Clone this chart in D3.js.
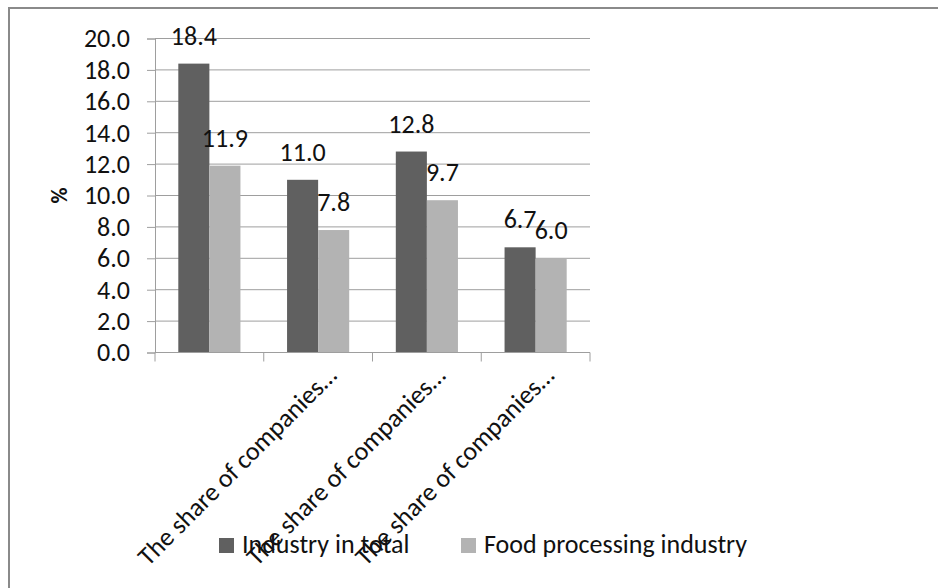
<!DOCTYPE html>
<html>
    <head>
        <title>Share of companies</title>
        <meta charset="UTF-8">
        <script src="https://d3js.org/d3.v7.min.js"></script>
        <style>
            body { margin: 0; background: #fff; }
            text { font-family: Calibri, Carlito, Lato, sans-serif; fill: #111; }
        </style>
    </head>
    <body>
        <script>
            var categories = ["c1", "c2", "c3", "c4"];
            var tickLabels = ["", "The share of companies\u2026", "The share of companies\u2026", "The share of companies\u2026"];
            var seriesNames = ["Industry in total", "Food processing industry"];
            var industryTotal = [18.4, 11.0, 12.8, 6.7];
            var foodProcessing = [11.9, 7.8, 9.7, 6.0];
            var yTicks = [0, 2, 4, 6, 8, 10, 12, 14, 16, 18, 20];

            var w = 938, h = 588;
            var plotL = 155, plotR = 590, plotT = 38.5, plotB = 352.5;
            var colors = ["#606060", "#b3b3b3"];
            var fs = 26;

            var svg = d3.select("body")
                    .append("svg")
                    .attr("width", w)
                    .attr("height", h);

            // outer frame (runs off the right/bottom edges)
            svg.append("rect")
                    .attr("x", 9)
                    .attr("y", 8)
                    .attr("width", 1000)
                    .attr("height", 1000)
                    .attr("fill", "none")
                    .attr("stroke", "#8a8a8a")
                    .attr("stroke-width", 2);

            var yScale = d3.scaleLinear()
                    .domain([0, 20])
                    .range([plotB, plotT]);

            var x0 = d3.scaleBand()
                    .domain(categories)
                    .range([plotL, plotR]);

            var x1 = d3.scaleBand()
                    .domain(seriesNames)
                    .range([0, x0.bandwidth()])
                    .paddingInner(0)
                    .paddingOuter(0.75);

            // gridlines
            svg.append("g")
                    .selectAll("line")
                    .data(yTicks.slice(1))
                    .enter()
                    .append("line")
                    .attr("x1", plotL)
                    .attr("x2", plotR)
                    .attr("y1", function(d){ return yScale(d); })
                    .attr("y2", function(d){ return yScale(d); })
                    .attr("stroke", "#9e9e9e")
                    .attr("stroke-width", 1);

            // y axis
            var yAxis = d3.axisLeft(yScale)
                    .tickValues(yTicks)
                    .tickSize(8)
                    .tickPadding(17)
                    .tickFormat(d3.format(".1f"));
            var yG = svg.append("g")
                    .attr("transform", "translate(" + plotL + ",0)")
                    .call(yAxis);
            yG.select(".domain").attr("stroke", "#9e9e9e");
            yG.selectAll(".tick line").attr("stroke", "#9e9e9e");
            yG.selectAll(".tick text")
                    .attr("font-size", fs)
                    .attr("font-family", null)
                    .attr("fill", "#111");

            // bars
            var groups = svg.append("g")
                    .selectAll("g")
                    .data(categories)
                    .enter()
                    .append("g")
                    .attr("transform", function(d){ return "translate(" + x0(d) + ",0)"; });

            groups.selectAll("rect")
                    .data(function(d, i){
                        return [
                            {s: seriesNames[0], v: industryTotal[i], c: colors[0]},
                            {s: seriesNames[1], v: foodProcessing[i], c: colors[1]}
                        ];
                    })
                    .enter()
                    .append("rect")
                    .attr("x", function(d){ return x1(d.s); })
                    .attr("y", function(d){ return yScale(d.v); })
                    .attr("width", x1.bandwidth())
                    .attr("height", function(d){ return plotB - yScale(d.v); })
                    .attr("fill", function(d){ return d.c; });

            groups.selectAll("text")
                    .data(function(d, i){
                        return [
                            {s: seriesNames[0], v: industryTotal[i]},
                            {s: seriesNames[1], v: foodProcessing[i]}
                        ];
                    })
                    .enter()
                    .append("text")
                    .text(function(d){ return d.v.toFixed(1); })
                    .attr("x", function(d){ return x1(d.s) + x1.bandwidth() / 2; })
                    .attr("y", function(d){ return yScale(d.v) - 19; })
                    .attr("text-anchor", "middle")
                    .attr("font-size", fs);

            // x axis
            var xAxisG = svg.append("g");
            xAxisG.append("line")
                    .attr("x1", plotL)
                    .attr("x2", plotR)
                    .attr("y1", plotB)
                    .attr("y2", plotB)
                    .attr("stroke", "#9e9e9e");
            xAxisG.selectAll(".xtick")
                    .data(categories.concat(["end"]))
                    .enter()
                    .append("line")
                    .attr("class", "xtick")
                    .attr("x1", function(d){ return d === "end" ? plotR : x0(d); })
                    .attr("x2", function(d){ return d === "end" ? plotR : x0(d); })
                    .attr("y1", plotB)
                    .attr("y2", plotB + 9)
                    .attr("stroke", "#9e9e9e");
            xAxisG.selectAll(".xlabel")
                    .data(categories)
                    .enter()
                    .append("text")
                    .attr("class", "xlabel")
                    .text(function(d, i){ return tickLabels[i]; })
                    .attr("text-anchor", "end")
                    .attr("font-size", fs)
                    .attr("transform", function(d){
                        var cx = x0(d) + x0.bandwidth() / 2 + 20;
                        return "translate(" + cx + ",377) rotate(-45)";
                    });

            // y title
            svg.append("text")
                    .text("%")
                    .attr("font-weight", "bold")
                    .attr("font-size", 22)
                    .attr("text-anchor", "middle")
                    .attr("transform", "translate(67," + ((plotT + plotB) / 2) + ") rotate(-90)");

            // legend
            var legendX = [219, 461];
            var legend = svg.append("g")
                    .selectAll("g")
                    .data(seriesNames)
                    .enter()
                    .append("g")
                    .attr("transform", function(d, i){ return "translate(" + legendX[i] + ",538)"; });
            legend.append("rect")
                    .attr("width", 15)
                    .attr("height", 15)
                    .attr("fill", function(d, i){ return colors[i]; });
            legend.append("text")
                    .text(function(d){ return d; })
                    .attr("x", 23)
                    .attr("y", 15)
                    .attr("font-size", fs);
        </script>
    </body>
</html>
